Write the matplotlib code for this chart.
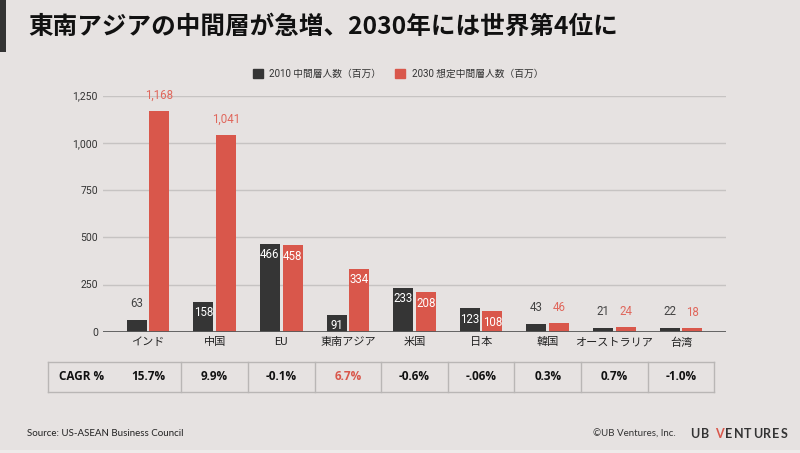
import matplotlib.pyplot as plt
from matplotlib.patches import Rectangle, Patch
from matplotlib.transforms import blended_transform_factory

# データ
categories = ['インド', '中国', 'EU', '東南アジア', '米国', '日本', '韓国', 'オーストラリア', '台湾']
mid_2010 = [63, 158, 466, 91, 233, 123, 43, 21, 22]
mid_2030 = [1168, 1041, 458, 334, 208, 108, 46, 24, 18]
cagr = ['15.7%', '9.9%', '-0.1%', '6.7%', '-0.6%', '-.06%', '0.3%', '0.7%', '-1.0%']
highlight = '東南アジア'
yticks = [0, 250, 500, 750, 1000, 1250]

BG = '#e6e2e1'
DARK = '#353535'
RED = '#d9574b'
JP = ['Roboto', 'Noto Sans CJK JP', 'DejaVu Sans']
plt.rcParams['font.family'] = JP

W, H = 800, 453
fig = plt.figure(figsize=(W / 100, H / 100), dpi=100, facecolor=BG)

# タイトル
fig.add_artist(Rectangle((0, 1 - 52 / H), 6 / W, 52 / H, transform=fig.transFigure,
                         color='#333333', lw=0))
fig.text(28 / W, 1 - 27 / H, '東南アジアの中間層が急増、2030年には世界第4位に',
         fontsize=17.7, fontweight='bold', va='center', color='#111111',
         family=['Noto Sans CJK JP', 'DejaVu Sans'])

ax = fig.add_axes([103 / W, 1 - 331.7 / H, 623 / W, (331.7 - 95.7) / H])
ax.set_facecolor(BG)
x = list(range(len(categories)))
bw, off = 0.3, 0.17
b1 = ax.bar([i - off for i in x], mid_2010, bw, color=DARK, zorder=3)
b2 = ax.bar([i + off for i in x], mid_2030, bw, color=RED, zorder=3)

for bars, vals, out_col in [(b1, mid_2010, '#444444'), (b2, mid_2030, '#e0675c')]:
    for rect, v in zip(bars, vals):
        cx = rect.get_x() + rect.get_width() / 2
        if 80 < v < 1000:
            ax.annotate(f'{v:,}', (cx, v), xytext=(0, -8), textcoords='offset points',
                        ha='center', va='center', color='white', fontsize=8.3, zorder=4)
        else:
            ax.annotate(f'{v:,}', (cx, v), xytext=(0, 11.5), textcoords='offset points',
                        ha='center', va='center', color=out_col, fontsize=8.3, zorder=4,
                        annotation_clip=False)

ax.set_xlim(-0.676, 8.676)
ax.set_ylim(0, 1250)
ax.set_yticks(yticks)
ax.set_yticklabels([f'{t:,}' for t in yticks])
ax.set_xticks(x)
ax.set_xticklabels(categories)
ax.tick_params(axis='y', length=0, pad=3.6, labelsize=7.5, labelcolor='#333333')
ax.tick_params(axis='x', length=0, pad=4, labelsize=8, labelcolor='#222222')
for s in ax.spines.values():
    s.set_visible(False)
ax.yaxis.grid(True, color='#c6c3c2', lw=1, zorder=0)
ax.axhline(0, color='#5a5a5a', lw=1.3, zorder=5)

# 凡例
handles = [Patch(color=DARK, label='2010 中間層人数（百万）'),
           Patch(color=RED, label='2030 想定中間層人数（百万）')]
fig.legend(handles=handles, loc='center', bbox_to_anchor=(398 / W, 1 - 74 / H), ncol=2,
           frameon=False, fontsize=7, handlelength=1.0, handleheight=1.0,
           handletextpad=0.7, columnspacing=1.4, labelcolor='#333333')

# CAGR テーブル
tr = blended_transform_factory(ax.transData, fig.transFigure)
t_top, t_bot = 1 - 362.3 / H, 1 - 391.7 / H
t_mid = (t_top + t_bot) / 2
grey = '#b9b6b5'
for yy in (t_top, t_bot):
    ax.plot([-1.5, 8.5], [yy, yy], transform=tr, color=grey, lw=1, clip_on=False)
for xx in [-1.5] + [i + 0.5 for i in x]:
    ax.plot([xx, xx], [t_top, t_bot], transform=tr, color=grey, lw=1, clip_on=False)
TBL = ['Open Sans', 'DejaVu Sans']
ax.text(-1.0, t_mid, 'CAGR %', transform=tr, ha='center', va='center', fontsize=8.5,
        fontweight='bold', color='#111111', family=TBL)
for i, (c, val) in enumerate(zip(categories, cagr)):
    ax.text(i, t_mid, val, transform=tr, ha='center', va='center', fontsize=8.5,
            fontweight='bold', color=RED if c == highlight else '#111111', family=TBL)

# フッター
fig.text(27 / W, 1 - 434 / H, 'Source: US-ASEAN Business Council', fontsize=7,
         va='center', color='#222222', family=['Lato', 'DejaVu Sans'])
fig.text(593 / W, 1 - 434 / H, '©UB Ventures, Inc.', fontsize=7, va='center',
         color='#333333', family=['Lato', 'DejaVu Sans'])
logo_x = [690, 701, 715, 724.5, 734, 743.5, 753, 762.5, 772, 781]
for ch, lx in zip('UBVENTURES', logo_x):
    fig.text(lx / W, 1 - 434 / H, ch, fontsize=9, va='center', fontweight='bold',
             color=RED if ch == 'V' else '#333333', family=['Lato', 'DejaVu Sans'])
fig.add_artist(Rectangle((0, 0), 1, 3 / H, transform=fig.transFigure, color='#eeebea', lw=0))

fig.savefig('out.png', dpi=100, facecolor=BG)
